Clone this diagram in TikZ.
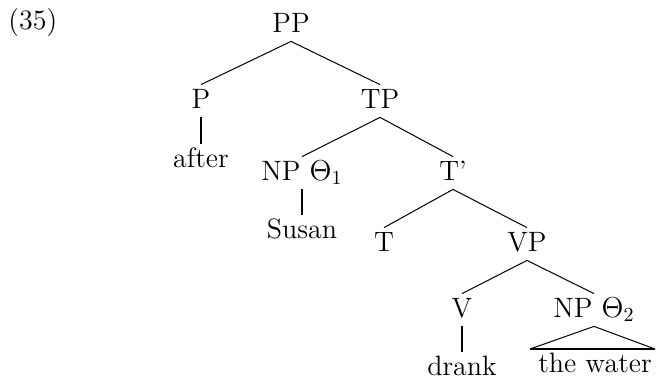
\documentclass[tikz,border=0pt]{standalone}
\begin{document}
\begin{tikzpicture}[x=0.5pt,y=-0.5pt,
   every node/.style={font=\fontsize{14}{17}\selectfont},
   cat/.style={inner sep=1pt,text height=10.5pt,text depth=3.5pt,anchor=base},
   branch/.style={line width=0.5pt},
   stem/.style={line width=1.2pt}]

   \useasboundingbox (0,0) rectangle (656,381);
   \node[anchor=base west,inner sep=0pt] (num) at (8,29) {(35)};

   \node[cat] (pp) at (291,32) {PP};
   \node[cat] (p) at (201,108) {P};
   \node[cat] (tp) at (380,108) {TP};
   \node[cat] (after) at (201,167) {after};
   \node[cat] (np1) at (302,180) {NP $\Theta_1$};
   \node[cat] (tbar) at (453,180) {T'};
   \node[cat] (susan) at (302,238) {Susan};
   \node[cat] (t) at (384,251) {T};
   \node[cat] (vp) at (527,251) {VP};
   \node[cat] (v) at (462,317) {V};
   \node[cat] (np2) at (594,317) {NP $\Theta_2$};
   \node[cat] (drank) at (462,375) {drank};
   \node[cat] (water) at (595,372) {the water};

   \draw[branch] (pp.south) -- (p.north);
   \draw[branch] (pp.south) -- (tp.north);
   \draw[stem] (p.south) -- (after.north);
   \draw[branch] (tp.south) -- (np1.north);
   \draw[branch] (tp.south) -- (tbar.north);
   \draw[stem] (np1.south) -- (susan.north);
   \draw[branch] (tbar.south) -- (t.north);
   \draw[branch] (tbar.south) -- (vp.north);
   \draw[branch] (vp.south) -- (v.north);
   \draw[branch] (vp.south) -- (np2.north);
   \draw[stem] (v.south) -- (drank.north);

   \coordinate (tl) at (530,349);
   \coordinate (tr) at (655,349);
   \draw[branch] (tl) -- (np2.south) -- (tr);
   \draw[stem] (tl) -- (tr);

\end{tikzpicture}
\end{document}
